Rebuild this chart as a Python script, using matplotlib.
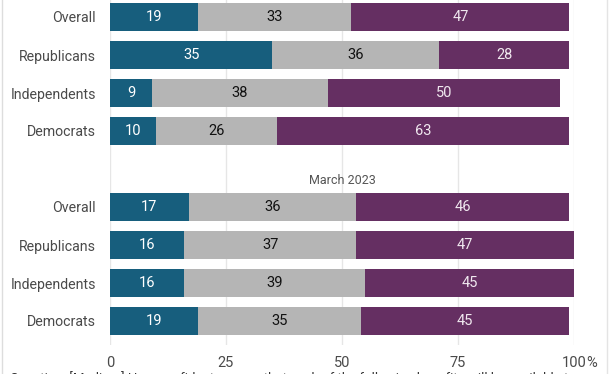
import matplotlib.pyplot as plt
from matplotlib.lines import Line2D

plt.rcParams['font.family'] = ['Roboto', 'DejaVu Sans']

groups = ['Overall', 'Republicans', 'Independents', 'Democrats']
low_top = [19, 35, 9, 10]
mid_top = [33, 36, 38, 26]
high_top = [47, 28, 50, 63]
low_mar = [17, 16, 16, 19]
mid_mar = [36, 37, 39, 35]
high_mar = [46, 47, 45, 45]
ticks = [0, 25, 50, 75, 100]

blue = '#175e7d'
grey = '#b5b5b5'
purple = '#652f62'

W, H = 612, 374
fig = plt.figure(figsize=(W / 100, H / 100), dpi=100)
# axes spans pixel x 110..574, y 0..345
ax = fig.add_axes([110 / W, 1 - 345 / H, 464 / W, 345 / H])

row_px = 38.0
top0 = 17.0
ax.set_ylim((345 - top0) / row_px, -top0 / row_px)
ax.set_xlim(0, 100)

pos_top = [0, 1, 2, 3]
pos_mar = [5, 6, 7, 8]
h = 0.76

def draw(pos, lo, mi, hi):
    left_hi = [a + b for a, b in zip(lo, mi)]
    ax.barh(pos, lo, height=h, color=blue, zorder=3)
    ax.barh(pos, mi, left=lo, height=h, color=grey, zorder=3)
    ax.barh(pos, hi, left=left_hi, height=h, color=purple, zorder=3)
    for p, a, b, c in zip(pos, lo, mi, hi):
        ax.text(a / 2, p, str(a), ha='center', va='center', color='white', fontsize=10.5, zorder=4)
        ax.text(a + b / 2, p, str(b), ha='center', va='center', color='#111111', fontsize=10.5, zorder=4)
        ax.text(a + b + c / 2, p, str(c), ha='center', va='center', color='#f0e8ef', fontsize=10.5, zorder=4)

draw(pos_top, low_top, mid_top, high_top)
draw(pos_mar, low_mar, mid_mar, high_mar)

ax.text(50, 4.3, 'March 2023', ha='center', va='center', color='#555555', fontsize=9)

ax.set_yticks(pos_top + pos_mar)
ax.set_yticklabels(groups + groups, fontsize=10.2, color='#4a4a4a')
ax.tick_params(axis='y', length=0, pad=10)

ax.set_xticks(ticks)
ax.set_xticklabels([str(t) for t in ticks], fontsize=10.5, color='#4a4a4a')
ax.tick_params(axis='x', length=0, pad=8)
ax.xaxis.grid(True, color='#e6e6e6', linewidth=1, zorder=0)
for s in ax.spines.values():
    s.set_visible(False)

fig.text(586 / W, 1 - 356 / H, '%', ha='left', va='top', fontsize=10.5, color='#4a4a4a')

fig.text(10 / W, 1 - 371 / H,
         'Question: [Medium] How confident are you that each of the following benefits will be available to you',
         ha='left', va='top', fontsize=9.5, color='#333333')

fig.add_artist(Line2D([1.5 / W, 1.5 / W], [0, 1], color='#dddddd', linewidth=1))
fig.add_artist(Line2D([607 / W, 607 / W], [0, 1], color='#e4e4e4', linewidth=1))

fig.savefig('out.png', dpi=100)
